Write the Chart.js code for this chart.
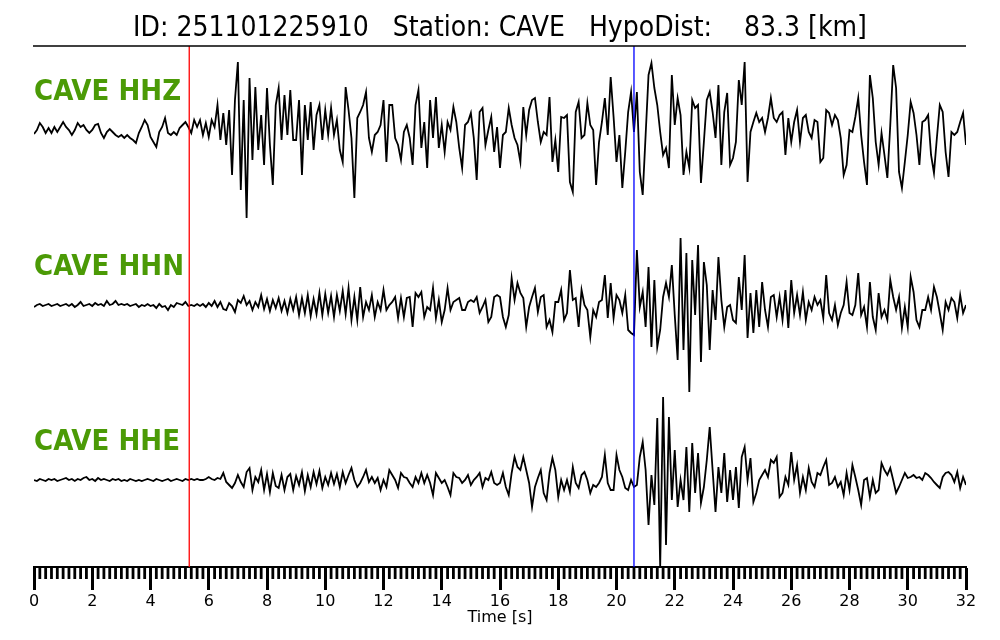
<!DOCTYPE html>
<html lang="en">
<head>
<meta charset="UTF-8">
<title>CAVE waveforms</title>
<script src="https://cdn.jsdelivr.net/npm/chart.js"></script>
<style>
  html, body { margin: 0; padding: 0; background: #fff; }
  canvas { display: block; }
</style>
</head>
<body>
<canvas id="waveChart" width="1000" height="640"></canvas>
<script>
// event info
const eventId = '251101225910';
const stationName = 'CAVE';
const hypoDist = 83.3;
const channels = ['HHZ', 'HHN', 'HHE'];

// picks [s]
const pickP = 5.33;
const pickS = 20.6;

// samples every 0.1 s, 0 .. 32 s (amplitude, arbitrary units)
const sampleStep = 0.1;

const hhz = [
  -4, 0, 7, 3, -3, 2, -3, 3, -2, 3,
  8, 3, 0, -5, 0, 7, 3, 5, 0, -3,
  0, 5, 6, -3, -8, -2, 1, -2, -5, -7,
  -5, -8, -5, -8, -10, -13, -3, 3, 10, 5,
  -7, -12, -17, -2, 3, 12, -3, -5, -2, -5,
  2, 5, 8, 3, -3, 10, 3, 10, -5, 7,
  -7, 10, 3, 25, -10, 17, -15, 20, -45, 30,
  68, -60, 30, -88, 52, -30, 43, -20, 15, -35,
  42, -15, -55, 25, 42, -10, 35, -5, 40, -10,
  -10, 30, -45, 25, -10, 28, -20, 15, 25, -10,
  20, -5, 22, -5, 10, -20, -32, 43, 20, -8,
  -68, 12, 18, 25, 38, -8, -22, -5, -2, 5,
  30, -32, 25, 25, -8, -15, -30, -2, 5, -8,
  -35, 25, 40, -18, 8, -38, 30, -8, 33, -18,
  5, -22, 8, 0, 23, 8, -18, -38, 5, 8,
  17, -8, -50, 18, 22, -15, 0, 13, -22, 3,
  -38, -5, -2, 22, 5, -8, -15, -32, 23, -5,
  20, 30, 32, 8, -12, -2, -5, 33, -32, -10,
  -42, 13, 12, 15, -52, -62, 18, 28, -8, -5,
  27, 5, 0, -55, -12, 8, 32, -5, 53, 13,
  -32, -5, -58, -22, 18, 38, -2, 38, -42, -65,
  -5, 55, 67, 42, 25, -2, -25, -18, -38, 55,
  5, 32, 15, -45, -22, -38, 30, 22, 25, -53,
  -12, 30, 38, 18, -8, 45, -35, 18, 37, -35,
  -28, -12, 50, 25, 68, -52, -2, 8, 17, 8,
  12, -2, 12, 32, 12, 8, 15, 18, -25, 12,
  -12, 8, 20, -12, 12, 15, -2, -8, 10, 8,
  -32, -28, 20, 17, 5, 15, 10, -8, -45, -35,
  0, -2, 13, 32, -5, -32, -55, 55, 32, -12,
  -35, -3, -25, -48, 5, 65, 42, -42, -58, -32,
  -5, 28, 17, -5, -35, 8, 10, 15, -25, -43,
  -8, 25, 18, -22, -47, -2, -5, -2, 8, 17,
  -15
];

const hhn = [
  -2, 0, 1, -1, 0, 1, -1, 0, 1, -1,
  0, 1, -1, 1, -2, 0, 3, -1, 0, 1,
  -1, 2, 0, 1, -1, 4, 0, 1, 4, 0,
  1, 0, 1, -1, 0, 1, -2, 0, -1, 1,
  -1, 0, -3, 1, -2, -1, -5, 0, -2, 2,
  1, 0, 3, -1, 0, -1, 1, -1, 1, -2,
  2, -1, 4, -2, 3, -4, -5, 2, -1, -7,
  5, 2, 9, 0, 4, -5, 3, -2, 10, -4,
  6, -6, 5, -3, 7, -6, 4, -8, 6, -5,
  8, -10, 7, -8, 10, -11, 6, -9, 12, -10,
  11, -8, 9, -12, 10, -6, 14, -9, 17, -15,
  8, -15, 18, -12, 3, -5, 10, -12, 3, -5,
  15, -5, 0, 3, 8, -13, 7, -12, 7, 8,
  -22, 12, 8, 13, -12, -2, -5, 17, -13, 5,
  -17, -5, 17, -5, 3, 5, 7, -5, -5, 3,
  5, 3, 8, -8, -2, 5, -17, -12, 8, 10,
  8, -12, -22, -10, 27, 5, 22, 12, 7, -22,
  -2, 8, 17, -7, 8, 10, -22, -15, -27, 3,
  3, 15, -15, -8, 35, 5, 7, -22, 15, 0,
  -5, -32, -5, -12, 3, 5, 30, -13, 22, -13,
  10, 5, -8, 10, -25, -28, -30, 55, -2, 13,
  -22, 38, -42, 25, -42, -25, 8, 22, 8, 40,
  -10, -55, 67, -45, 52, -87, 45, -10, 60, -57,
  43, 20, -45, 15, -15, 48, 5, -22, -2, 0,
  -15, -18, 28, -5, 50, -33, 12, -28, 15, -22,
  23, -5, -22, 8, 10, -12, 8, -15, 15, -23,
  25, -8, 10, -10, 13, -15, 3, -5, 8, 0,
  5, -13, 30, -8, -15, 0, -20, -8, 0, 23,
  -8, -10, 0, 32, -10, -2, -22, 23, -12, -25,
  12, -12, -5, -15, 25, 8, -5, 8, -23, -2,
  -22, 28, 13, -15, -22, -5, -5, 8, -5, 18,
  8, -8, -25, 3, -5, 7, 3, -13, 10, -8,
  0
];

const hhe = [
  0, -1, 1, 0, -1, 1, 0, 1, -1, 0,
  1, 2, 0, 1, -1, 1, 0, 2, 3, 0,
  1, -1, 2, 0, 1, 0, -1, 1, 0, 1,
  -1, 0, -1, 1, 0, -1, 0, -1, 0, 1,
  0, -1, 1, 0, -1, 0, 1, -1, 0, 1,
  0, -1, 1, 0, 1, 0, 1, 0, 0, 1,
  3, 1, 0, 2, 1, 7, -2, -5, -8, -3,
  5, -2, -7, 8, 12, -10, 3, -2, 10, -10,
  6, -12, 7, -6, -8, 5, -10, 3, 6, -10,
  4, -5, 8, -11, 5, -7, 8, -4, 9, -8,
  3, -5, 7, -4, 6, -7, 8, -3, 5, 12,
  0, -7, -3, 3, 10, -2, 3, -3, 2, -10,
  0, -7, 10, 5, 0, -8, 7, 3, 2, -3,
  -7, 3, -3, 7, -3, 5, -3, -15, 7, 2,
  -3, 0, -7, -15, 7, 3, 2, -3, 0, 5,
  -5, 0, 3, 7, -7, 2, 0, 8, -3, -5,
  -3, 7, -7, -15, 7, 23, 13, 10, 23, 10,
  -3, -27, -7, 2, 10, -13, -20, 7, 22, 10,
  -17, 0, -10, 0, -12, 13, -3, -8, 5, 8,
  0, -13, -5, -7, -3, 3, 25, -3, -10, -10,
  25, 10, 3, -8, -10, 0, -7, -5, 23, 38,
  10, -45, 5, -25, 62, -87, 83, -65, 63, -20,
  30, -27, 0, -20, 33, -32, 37, -13, 27, -23,
  -7, 20, 53, 10, -32, 13, -13, 27, -22, 10,
  -20, 13, -28, 23, 33, 0, 22, -22, -13, 0,
  5, 10, 3, 20, 17, 23, -17, -13, 3, -5,
  28, 0, 15, -13, 3, -10, 12, -2, -7, 7,
  5, 13, 20, -5, -3, 3, -7, -2, -15, 7,
  -10, 15, 3, -10, -25, 0, 2, -17, 0, -13,
  -10, 17, 10, 5, 12, 0, -13, -7, 0, 7,
  2, 3, 5, 2, 3, 0, 7, 5, 2, -2,
  -5, -8, 3, 7, 8, 5, -2, 8, -8, 3,
  -5
];

const traces = [hhz, hhn, hhe];
// vertical offset of each trace on the y scale
const traceOffsets = [-84, -259, -434];
const yMin = -521, yMax = 0;

const condensed = "'DejaVu Sans Condensed', 'DejaVu Sans', sans-serif";

function toPoints(values, offset) {
  return values.map((v, i) => ({ x: +(i * sampleStep).toFixed(1), y: offset + v }));
}

function pickLine(t, color) {
  return {
    data: [{ x: t, y: yMax }, { x: t, y: yMin }],
    borderColor: color,
    borderWidth: 1.3,
    pointRadius: 0,
    order: 0
  };
}

const datasets = traces.map((tr, k) => ({
  label: stationName + ' ' + channels[k],
  data: toPoints(tr, traceOffsets[k]),
  borderColor: '#000',
  borderWidth: 1.8,
  pointRadius: 0,
  tension: 0,
  order: 1
}));
datasets.push(pickLine(pickP, '#ff0000'));
datasets.push(pickLine(pickS, '#0000ff'));

// frame line, minor ticks and channel names
const decorations = {
  id: 'decorations',
  afterDraw(chart) {
    const { ctx, chartArea, scales } = chart;
    ctx.save();
    ctx.strokeStyle = '#000';
    ctx.lineWidth = 1.6;
    ctx.beginPath();
    ctx.moveTo(chartArea.left - 1, chartArea.top);
    ctx.lineTo(chartArea.right, chartArea.top);
    ctx.stroke();

    ctx.lineWidth = 2.8;
    for (let i = 1; i < 160; i++) {
      if (i % 10 === 0) continue;
      const px = scales.x.getPixelForValue(i * 0.2);
      ctx.beginPath();
      ctx.moveTo(px, chartArea.bottom);
      ctx.lineTo(px, chartArea.bottom + 12);
      ctx.stroke();
    }

    ctx.fillStyle = '#4b9a06';
    ctx.font = 'bold 29px ' + condensed;
    ctx.textAlign = 'left';
    ctx.textBaseline = 'alphabetic';
    channels.forEach((ch, k) => {
      const py = scales.y.getPixelForValue(traceOffsets[k] + 30);
      ctx.fillText(stationName + ' ' + ch, chartArea.left, py);
    });
    ctx.restore();
  }
};

new Chart(document.getElementById('waveChart'), {
  type: 'line',
  data: { datasets: datasets },
  plugins: [decorations],
  options: {
    responsive: false,
    animation: false,
    devicePixelRatio: 1,
    layout: { padding: { left: 34, right: 34, top: 0, bottom: 0 } },
    plugins: {
      legend: { display: false },
      tooltip: { enabled: false },
      title: {
        display: true,
        text: 'ID: ' + eventId + '   Station: ' + stationName + '   HypoDist:    ' + hypoDist.toFixed(1) + ' [km]',
        color: '#000',
        font: { family: condensed, size: 28, weight: 'normal', lineHeight: 1.2 },
        padding: { top: 12, bottom: 0.4 }
      }
    },
    scales: {
      x: {
        type: 'linear',
        min: 0,
        max: 32,
        grid: { drawOnChartArea: false, drawTicks: true, tickLength: 23, tickWidth: 3, tickColor: '#000' },
        border: { display: true, color: '#000', width: 2 },
        ticks: { stepSize: 2, color: '#000', padding: 2, maxRotation: 0, autoSkip: false,
                 font: { family: 'DejaVu Sans', size: 16 } },
        title: { display: true, text: 'Time [s]', color: '#000',
                 font: { family: 'DejaVu Sans', size: 16 }, padding: { top: 0, bottom: 13 } },
        afterFit: (scale) => { scale.height = 73; }
      },
      y: { display: false, min: yMin, max: yMax }
    }
  }
});
</script>
</body>
</html>
